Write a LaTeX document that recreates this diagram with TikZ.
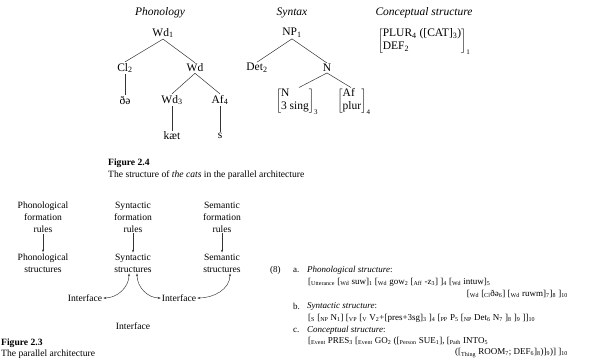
\documentclass[tikz,border=0pt]{standalone}
\usepackage{fontspec}
\setmainfont{Liberation Serif}
\usetikzlibrary{arrows.meta}
\newcommand{\sbs}[1]{\textsubscript{#1}}
\begin{document}
\begin{tikzpicture}[x=1pt,y=-1pt,
  tree/.style={font=\fontsize{11.5}{13}\selectfont, inner sep=1pt},
  head/.style={font=\fontsize{11.5}{13}\selectfont\itshape, inner sep=0pt},
  branch/.style={draw=black!80, line width=0.5pt},
  lbl/.style={font=\fontsize{9.6}{12}\selectfont, align=center, inner sep=1pt},
  arr/.style={draw=black!80, line width=0.45pt, -{Stealth[length=3pt,width=2pt]}},
  darr/.style={draw=black!80, line width=0.45pt, {Stealth[length=3pt,width=2pt]}-{Stealth[length=3pt,width=2pt]}},
  captxt/.style={font=\fontsize{9.6}{12}\selectfont, anchor=west, inner sep=0pt},
  ex/.style={font=\fontsize{9}{11}\selectfont, anchor=west, inner sep=0pt}]
\useasboundingbox (0,0) rectangle (591,359);
% ---------- Figure 2.4 ----------
\node[head] (hphon) at (160,13) {Phonology};
\node[head] (hsyn) at (292,13) {Syntax};
\node[head] (hcon) at (424,13) {Conceptual structure};

\node[tree] (wd1) at (163,33) {Wd\sbs{1}};
\node[tree] (cl2) at (125,68) {Cl\sbs{2}};
\node[tree] (wd) at (195,68) {Wd};
\node[tree] (the) at (125,100) {ðə};
\node[tree] (wd3) at (172,100) {Wd\sbs{3}};
\node[tree] (af4) at (220,100) {Af\sbs{4}};
\node[tree] (kat) at (172,136) {kæt};
\node[tree] (s) at (220,136) {s};
\draw[branch] (wd1.south) -- (cl2.north);
\draw[branch] (wd1.south) -- (wd.north);
\draw[branch] (cl2.south) -- (the.north);
\draw[branch] (wd.south) -- (wd3.north);
\draw[branch] (wd.south) -- (af4.north);
\draw[branch] (wd3.south) -- (kat.north);
\draw[branch] (af4.south) -- (s.north);

\node[tree] (np1) at (292,33) {NP\sbs{1}};
\node[tree] (det2) at (257,68) {Det\sbs{2}};
\node[tree] (n) at (327,68) {N};
\node[tree, inner sep=0pt] (m1) at (297,101) {$\left[\mbox{\begin{tabular}{@{}l@{}}N\\3 sing\end{tabular}}\right]_{\mbox{\scriptsize 3}}$};
\node[tree, inner sep=0pt] (m2) at (354,101) {$\left[\mbox{\begin{tabular}{@{}l@{}}Af\\plur\end{tabular}}\right]_{\mbox{\scriptsize 4}}$};
\draw[branch] (np1.south) -- (det2.north);
\draw[branch] (np1.south) -- (n.north);
\draw[branch] (n.south) -- ([xshift=2pt]m1.north);
\draw[branch] (n.south) -- ([xshift=-3pt]m2.north);

\node[tree, inner sep=0pt] (cs) at (424,41) {$\left[\mbox{\begin{tabular}{@{}l@{}}PLUR\sbs{4} ([CAT]\sbs{3})\\DEF\sbs{2}\end{tabular}}\right]_{\mbox{\scriptsize 1}}$};

\node[captxt, font=\fontsize{9.6}{12}\selectfont\bfseries] (f24) at (108,163) {Figure 2.4};
\node[captxt] (c24) at (108,175) {The structure of \textit{the cats} in the parallel architecture};

% ---------- Figure 2.3 ----------
\node[lbl] (pf) at (43,217) {Phonological\\formation\\rules};
\node[lbl] (sf) at (133,217) {Syntactic\\formation\\rules};
\node[lbl] (mf) at (222,217) {Semantic\\formation\\rules};
\node[lbl] (ps) at (43,263) {Phonological\\structures};
\node[lbl] (ss) at (133,263) {Syntactic\\structures};
\node[lbl] (ms) at (222,263) {Semantic\\structures};
\draw[arr] (pf.south) -- (ps.north);
\draw[arr] (sf.south) -- (ss.north);
\draw[arr] (mf.south) -- (ms.north);
\node[lbl] (i1) at (85,298) {Interface};
\node[lbl] (i2) at (179,298) {Interface};
\node[lbl] (i3) at (133,326) {Interface};
\draw[darr] (i1.east) to[out=0,in=-90] ([xshift=-4pt]ss.south);
\draw[darr] ([xshift=4pt]ss.south) to[out=-90,in=180] (i2.west);
\draw[darr] (i2.east) to[out=0,in=-90] ([xshift=8pt]ms.south);
\node[captxt, font=\fontsize{9.6}{12}\selectfont\bfseries] (f23) at (1,343) {Figure 2.3};
\node[captxt] (c23) at (1,354) {The parallel architecture};

% ---------- example (8) ----------
\node[ex] (e8) at (270,270) {(8)};
\node[ex] (ea) at (293,270) {a.};
\node[ex] (eah) at (307,270) {\textit{Phonological structure}:};
\node[ex] (ea1) at (308,282) {[\sbs{Utterance} [\sbs{Wd} suw]\sbs{1} [\sbs{Wd} gow\sbs{2} [\sbs{Aff} -z\sbs{3}] ]\sbs{4} [\sbs{Wd} intuw]\sbs{5}};
\node[ex, anchor=east] (ea2) at (568,294) {[\sbs{Wd} [\sbs{Cl}ðə\sbs{6}] [\sbs{Wd} ruwm]\sbs{7}]\sbs{8} ]\sbs{10}};
\node[ex] (eb) at (293,306) {b.};
\node[ex] (ebh) at (307,306) {\textit{Syntactic structure}:};
\node[ex] (eb1) at (308,318) {[\sbs{S} [\sbs{NP} N\sbs{1}] [\sbs{VP} [\sbs{V} V\sbs{2}+[pres+3sg]\sbs{3} ]\sbs{4} [\sbs{PP} P\sbs{5} [\sbs{NP} Det\sbs{6} N\sbs{7} ]\sbs{8} ]\sbs{9} ]]\sbs{10}};
\node[ex] (ec) at (293,330) {c.};
\node[ex] (ech) at (307,330) {\textit{Conceptual structure}:};
\node[ex] (ec1) at (308,341) {[\sbs{Event} PRES\sbs{3} [\sbs{Event} GO\sbs{2} ([\sbs{Person} SUE\sbs{1}], [\sbs{Path} INTO\sbs{5}};
\node[ex, anchor=east] (ec2) at (568,353) {([\sbs{Thing} ROOM\sbs{7}; DEF\sbs{6}]\sbs{8})]\sbs{9})] ]\sbs{10}};
\end{tikzpicture}
\end{document}
